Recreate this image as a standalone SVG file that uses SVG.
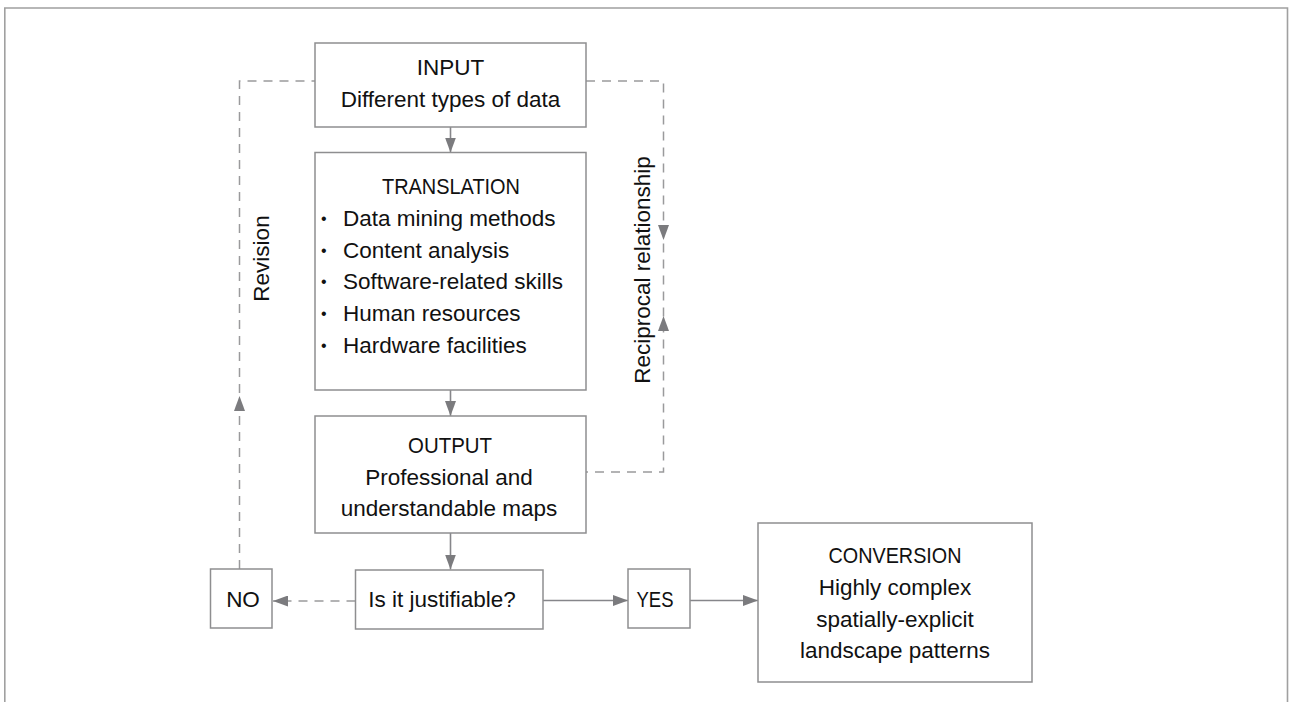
<svg xmlns="http://www.w3.org/2000/svg" width="1290" height="702" viewBox="0 0 1290 702">
  <defs>
    <marker id="ah" viewBox="0 0 15 11" refX="15" refY="5.5" markerWidth="15" markerHeight="11" markerUnits="userSpaceOnUse" orient="auto">
      <path d="M0,0 L15,5.5 L0,11 z" fill="#7b7b7e"/>
    </marker>
  </defs>
  <style>
    .frame { fill: none; stroke: #a0a0a0; stroke-width: 1.6; }
    .box { fill: #ffffff; stroke: #8e8e90; stroke-width: 1.5; }
    .lbl { font-family: "Liberation Sans", Arial, sans-serif; font-size: 22.5px; fill: #111111; }
    .mid { text-anchor: middle; }
    .bul { font-size: 16px; }
    .solid { fill: none; stroke: #86868a; stroke-width: 1.6; }
    .dash { fill: none; stroke: #9a9a9c; stroke-width: 1.5; stroke-dasharray: 9 7; }
    .tip { fill: none; stroke: none; }
  </style>

  <rect width="1290" height="702" fill="#ffffff"/>
  <!-- outer frame, open at the bottom -->
  <path class="frame" d="M4.8,702 L4.8,8 L1287.5,8 L1287.5,702"/>

  <g id="connectors">
    <!-- main flow -->
    <path class="solid" d="M450.5,127 L450.5,152.5" marker-end="url(#ah)"/>
    <path class="solid" d="M450.5,390 L450.5,416" marker-end="url(#ah)"/>
    <path class="solid" d="M450.5,533 L450.5,569.5" marker-end="url(#ah)"/>
    <path class="solid" d="M543,600.5 L628,600.5" marker-end="url(#ah)"/>
    <path class="solid" d="M690,600.5 L758,600.5" marker-end="url(#ah)"/>
    <!-- NO branch -->
    <path class="dash" d="M355.5,601 L273,601" marker-end="url(#ah)"/>
    <!-- revision loop back to input -->
    <path class="dash" d="M239.5,569 L239.5,81 L315,81"/>
    <path class="tip" d="M239.5,414 L239.5,396" marker-end="url(#ah)"/>
    <!-- reciprocal relationship between input and output -->
    <path class="dash" d="M586,81 L663.5,81 L663.5,472 L586,472"/>
    <path class="tip" d="M663.5,222 L663.5,240" marker-end="url(#ah)"/>
    <path class="tip" d="M663.5,334 L663.5,316" marker-end="url(#ah)"/>
  </g>

  <g id="input">
    <rect class="box" x="315" y="43" width="271" height="84"/>
    <text class="lbl mid" x="450.5" y="75">INPUT</text>
    <text class="lbl mid" x="450.5" y="106.5">Different types of data</text>
  </g>

  <g id="translation">
    <rect class="box" x="315" y="152.5" width="271" height="237.5"/>
    <text class="lbl mid" x="451" y="194" textLength="138" lengthAdjust="spacingAndGlyphs">TRANSLATION</text>
    <text class="lbl" x="321" y="224"><tspan class="bul">•</tspan><tspan x="343" y="226">Data mining methods</tspan></text>
    <text class="lbl" x="321" y="255.5"><tspan class="bul">•</tspan><tspan x="343" y="257.5">Content analysis</tspan></text>
    <text class="lbl" x="321" y="287"><tspan class="bul">•</tspan><tspan x="343" y="289">Software-related skills</tspan></text>
    <text class="lbl" x="321" y="319"><tspan class="bul">•</tspan><tspan x="343" y="321">Human resources</tspan></text>
    <text class="lbl" x="321" y="351"><tspan class="bul">•</tspan><tspan x="343" y="353">Hardware facilities</tspan></text>
  </g>

  <g id="output">
    <rect class="box" x="315" y="416" width="271" height="117"/>
    <text class="lbl mid" x="450" y="453" textLength="84" lengthAdjust="spacingAndGlyphs">OUTPUT</text>
    <text class="lbl mid" x="449" y="485">Professional and</text>
    <text class="lbl mid" x="449" y="516">understandable maps</text>
  </g>

  <g id="decision">
    <rect class="box" x="355.5" y="570" width="187.5" height="59"/>
    <text class="lbl mid" x="442" y="607">Is it justifiable?</text>
  </g>

  <g id="no">
    <rect class="box" x="210.5" y="569" width="61.5" height="59"/>
    <text class="lbl mid" x="243" y="606.5">NO</text>
  </g>

  <g id="yes">
    <rect class="box" x="628" y="569" width="62" height="59"/>
    <text class="lbl mid" x="655" y="607" textLength="37" lengthAdjust="spacingAndGlyphs">YES</text>
  </g>

  <g id="conversion">
    <rect class="box" x="758" y="523" width="274" height="159"/>
    <text class="lbl mid" x="895" y="563" textLength="133" lengthAdjust="spacingAndGlyphs">CONVERSION</text>
    <text class="lbl mid" x="895" y="595">Highly complex</text>
    <text class="lbl mid" x="895" y="627">spatially-explicit</text>
    <text class="lbl mid" x="895" y="658">landscape patterns</text>
  </g>

  <g id="edge-labels">
    <text class="lbl mid" transform="translate(269,258.5) rotate(-90)">Revision</text>
    <text class="lbl mid" transform="translate(650,270) rotate(-90)">Reciprocal relationship</text>
  </g>
</svg>
